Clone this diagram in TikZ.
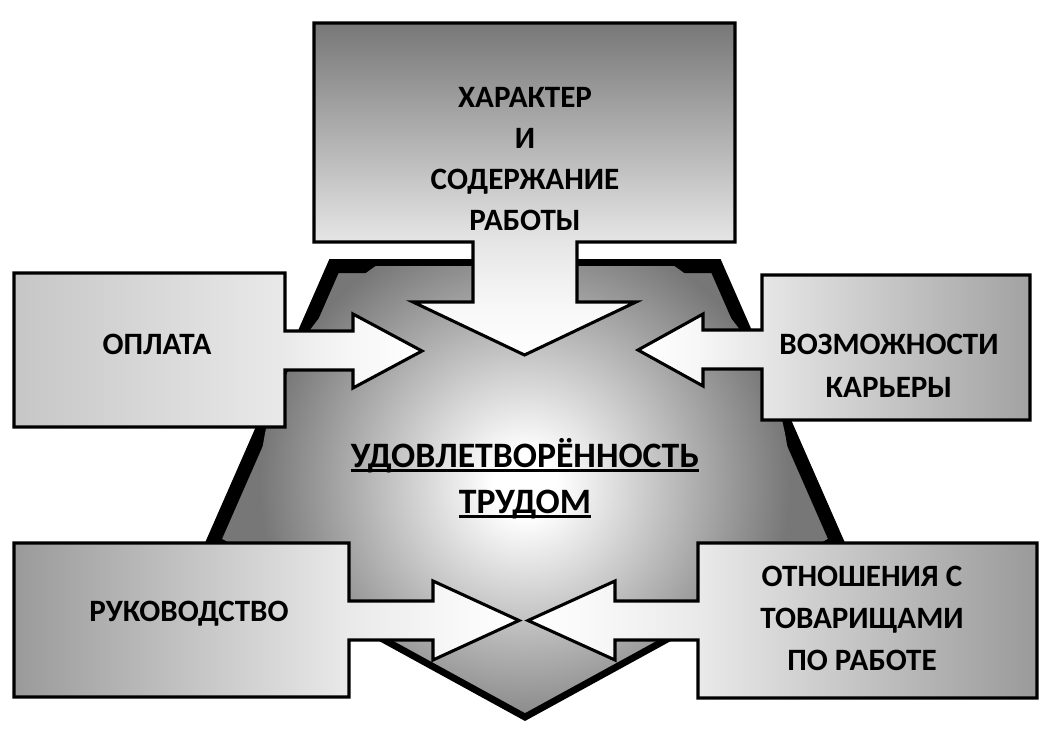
\documentclass[tikz,border=0pt]{standalone}
\usepackage{fontspec}
\setmainfont{Carlito}
\definecolor{g77}{HTML}{777777}
\definecolor{g9A}{HTML}{9A9A9A}
\definecolor{gA0}{HTML}{A2A2A2}
\definecolor{gC6}{HTML}{C6C6C6}
\definecolor{gE6}{HTML}{E6E6E6}
\definecolor{gE9}{HTML}{E9E9E9}
\definecolor{gF6}{HTML}{F6F6F6}
\pgfdeclareradialshading{glowsh}{\pgfpointorigin}{color(0bp)=(white); color(3bp)=(white); color(25bp)=(g77); color(50bp)=(g77)}
\pgfdeclareverticalshading{topsh}{100bp}{color(0bp)=(white); color(25bp)=(white); color(33bp)=(gF6); color(42bp)=(gE6); color(75bp)=(g77); color(100bp)=(g77)}
\pgfdeclarehorizontalshading{leftsh}{100bp}{color(0bp)=(gC6); color(25bp)=(gC6); color(58bp)=(gE9); color(66bp)=(gF6); color(75bp)=(white); color(100bp)=(white)}
\pgfdeclarehorizontalshading{rightsh}{100bp}{color(0bp)=(white); color(25bp)=(white); color(33bp)=(gF6); color(41bp)=(gE6); color(75bp)=(gA0); color(100bp)=(gA0)}
\pgfdeclarehorizontalshading{bleftsh}{100bp}{color(0bp)=(g9A); color(25bp)=(g9A); color(58bp)=(gE9); color(67bp)=(gF6); color(75bp)=(white); color(100bp)=(white)}
\pgfdeclarehorizontalshading{brightsh}{100bp}{color(0bp)=(white); color(25bp)=(white); color(33bp)=(gF6); color(42bp)=(gE9); color(75bp)=(g9A); color(100bp)=(g9A)}
\newsavebox\ulbx
\newcommand\myul[1]{\sbox\ulbx{#1}\rlap{\rule[-3.75pt]{\wd\ulbx}{2.25pt}}\usebox\ulbx}
\begin{document}
\begin{tikzpicture}[x=0.75pt,y=-0.75pt,
  boxsh/.style={draw=black,line width=2.3pt,line join=miter},
  lbl/.style={font=\bfseries\fontsize{23.3}{27}\selectfont,inner sep=0pt,anchor=base},
  big/.style={font=\bfseries\fontsize{26.8}{31}\selectfont,inner sep=0pt,anchor=base}]
\useasboundingbox (0,0) rectangle (1047,750);
\fill[white] (0,0) rectangle (1047,750);
% central pentagon
\coordinate (P1) at (334,266);
\coordinate (P2) at (716,266);
\coordinate (P3) at (837,542);
\coordinate (P4) at (525,713);
\coordinate (P5) at (213,542);
\draw[line width=10.5pt,line join=miter,fill=g77] (P1)--(P2)--(P3)--(P4)--(P5)--cycle;
\begin{scope}
\clip (P1)--(P2)--(P3)--(P4)--(P5)--cycle;
\shade[shading=glowsh] (525,485) circle[radius=265];
\end{scope}
% top box
\shadedraw[boxsh,shading=topsh] (314,23)--(735,23)--(735,242)--(577,242)--(577,302)--(636,302)--(524.5,355)--(413,302)--(473,302)--(473,242)--(314,242)--cycle;
% left box
\shadedraw[boxsh,shading=leftsh] (14,273)--(285,273)--(285,331)--(353,331)--(353,314)--(422,351)--(353,388)--(353,370)--(285,370)--(285,427)--(14,427)--cycle;
% right box
\shadedraw[boxsh,shading=rightsh] (762,275)--(1030,275)--(1030,420)--(762,420)--(762,369)--(703,369)--(703,386)--(638,350)--(703,314)--(703,330)--(762,330)--cycle;
% bottom-left box
\shadedraw[boxsh,shading=bleftsh] (14,543)--(349,543)--(349,601)--(433,601)--(433,581)--(519,620.5)--(433,660)--(433,640)--(349,640)--(349,697)--(14,697)--cycle;
% bottom-right box
\shadedraw[boxsh,shading=brightsh] (698,543)--(1037,543)--(1037,698)--(698,698)--(698,640)--(615,640)--(615,660)--(528,620.5)--(615,581)--(615,601)--(698,601)--cycle;
% texts
\node[lbl] (ta) at (525,107) {ХАРАКТЕР};
\node[lbl] (tb) at (525,148) {И};
\node[lbl] (tc) at (525,189) {СОДЕРЖАНИЕ};
\node[lbl] (td) at (525,230) {РАБОТЫ};
\node[lbl] (la) at (157,354) {ОПЛАТА};
\node[lbl] (ra) at (889,354) {ВОЗМОЖНОСТИ};
\node[lbl] (rb) at (889,397) {КАРЬЕРЫ};
\node[lbl] (ba) at (189,621) {РУКОВОДСТВО};
\node[lbl] (ca) at (862,586) {ОТНОШЕНИЯ С};
\node[lbl] (cb) at (862,628) {ТОВАРИЩАМИ};
\node[lbl] (cc) at (862,670) {ПО РАБОТЕ};
\node[big] (ma) at (525,467) {\myul{УДОВЛЕТВОРЁННОСТЬ}};
\node[big] (mb) at (525,513) {\myul{ТРУДОМ}};
\end{tikzpicture}
\end{document}
